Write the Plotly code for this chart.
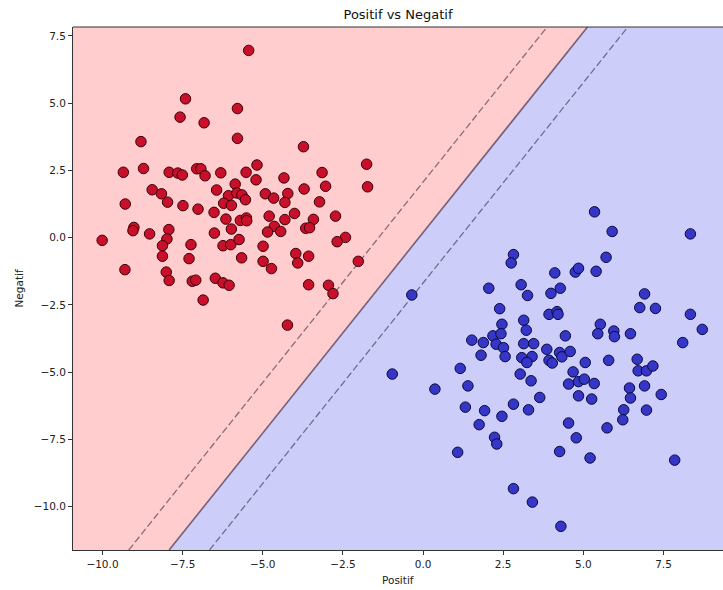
import plotly.graph_objects as go

# ---- data ----
red_x = [-10.01, -5.44, -7.41, -7.58, -6.83, -5.79, -5.79, -8.80, -3.73, -9.35,
         -8.72, -7.92, -7.65, -7.51, -7.06, -6.93, -6.80, -6.31, -5.52, -5.18,
         -5.21, -5.86, -4.34, -3.15, -3.04, -8.45, -8.16, -7.97, -6.44, -6.07,
         -5.81, -5.65, -5.54, -6.22, -5.98, -4.92, -4.66, -4.22, -4.31, -3.71,
         -3.23, -9.29, -7.49, -7.02, -6.52, -6.15, -5.70, -5.51, -5.50, -4.80,
         -4.01, -4.31, -3.42, -2.73, -9.02, -9.05, -8.53, -7.93, -7.99, -6.51,
         -5.98, -4.64, -4.85, -4.44, -3.66, -3.54, -2.42, -2.68, -8.13, -7.24,
         -6.24, -6.00, -5.74, -4.99, -8.13, -7.30, -5.66, -4.99, -4.73, -3.97,
         -3.91, -3.57, -9.30, -8.01, -7.92, -7.20, -7.09, -6.48, -6.24, -6.05,
         -3.57, -2.95, -2.81, -2.02, -1.76, -1.73, -6.86, -4.23]
red_y = [-0.10, 6.96, 5.16, 4.48, 4.27, 4.80, 3.69, 3.57, 3.38, 2.43,
         2.57, 2.43, 2.40, 2.33, 2.56, 2.56, 2.30, 2.41, 2.43, 2.70,
         2.15, 1.99, 2.22, 2.42, 1.91, 1.78, 1.63, 1.32, 1.77, 1.56,
         1.66, 1.59, 1.41, 1.28, 1.20, 1.63, 1.47, 1.64, 1.31, 1.81,
         1.33, 1.25, 1.19, 1.06, 0.94, 0.69, 0.64, 0.73, 0.63, 0.80,
         0.90, 0.67, 0.68, 0.80, 0.38, 0.26, 0.14, 0.30, -0.05, 0.17,
         0.32, 0.42, 0.21, 0.23, 0.35, 0.37, 0.01, -0.15, -0.30, -0.26,
         -0.30, -0.26, -0.07, -0.32, -0.69, -0.78, -0.75, -0.88, -1.15, -0.59,
         -0.94, -0.69, -1.19, -1.28, -1.59, -1.62, -1.58, -1.51, -1.68, -1.77,
         -1.75, -1.77, -2.08, -0.88, 2.73, 1.89, -2.32, -3.25]

blue_x = [5.35, 5.90, 8.34, 2.82, 2.75, 5.71, 4.11, 4.75, 4.85, 5.40,
          2.05, 3.06, 3.26, 3.99, 4.28, 6.91, -0.35, 2.39, 2.46, 3.14,
          3.22, 3.93, 4.18, 4.21, 6.76, 7.25, 8.34, 8.71, 8.10, 1.52,
          1.88, 2.18, 2.43, 2.28, 2.51, 1.81, 2.56, 3.14, 3.45, 3.86,
          3.08, 3.40, 3.24, 3.93, 4.03, 1.16, 4.44, 4.26, 4.33, 4.59,
          5.53, 5.45, 5.95, 5.97, 6.47, 5.79, 5.06, 4.68, 6.68, 6.71,
          6.97, 7.17, 3.03, 3.37, 1.40, -0.96, 0.37, 4.54, 4.85, 5.03,
          5.34, 4.85, 5.26, 3.64, 2.82, 3.29, 6.44, 6.47, 6.91, 7.43,
          6.26, 6.23, 6.97, 1.32, 1.92, 2.46, 1.75, 2.23, 2.30, 4.54,
          4.78, 5.74, 1.08, 4.26, 5.21, 7.85, 2.82, 3.41, 4.30]
blue_y = [0.96, 0.23, 0.14, -0.63, -0.94, -0.73, -1.31, -1.28, -1.14, -1.25,
          -1.88, -1.75, -2.15, -2.07, -1.88, -2.09, -2.13, -2.64, -3.22, -3.07,
          -3.44, -2.85, -2.75, -2.85, -2.60, -2.63, -2.85, -3.41, -3.90, -3.81,
          -3.90, -3.65, -3.57, -3.96, -4.09, -4.37, -4.42, -3.94, -3.94, -4.15,
          -4.46, -4.42, -4.64, -4.56, -4.66, -4.86, -3.65, -4.27, -4.43, -4.23,
          -3.22, -3.57, -3.47, -3.68, -3.57, -4.56, -4.64, -4.99, -4.52, -4.95,
          -4.95, -4.77, -5.07, -5.32, -5.51, -5.07, -5.63, -5.44, -5.35, -5.26,
          -5.42, -5.88, -6.00, -5.94, -6.19, -6.40, -5.59, -5.96, -5.51, -5.83,
          -6.40, -6.77, -6.41, -6.30, -6.43, -6.64, -6.95, -7.42, -7.67, -6.89,
          -7.44, -7.07, -7.98, -7.95, -8.19, -8.27, -9.33, -9.83, -10.73]

# linear SVM decision function: f(x, y) = w1*x + w2*y + b
svm_coef = [0.794, -0.533]
svm_intercept = 0.101
margin_levels = [-1.0, 1.0]

x_range = [-10.92, 9.357]
y_range = [-11.61, 7.83]
tick_values = [-10.0, -7.5, -5.0, -2.5, 0.0, 2.5, 5.0, 7.5]

title_text = "Positif vs Negatif"
x_label = "Positif"
y_label = "Negatif"

red_bg = "#ffcdcd"
blue_bg = "#cdcdfa"
red_pt = "#c8102a"
blue_pt = "#3535c6"


def x_at(level, y):
    w1, w2 = svm_coef
    return (level - svm_intercept - w2 * y) / w1


y0, y1 = y_range
x0, x1 = x_range
xb0, xb1 = x_at(0.0, y0), x_at(0.0, y1)

fig = go.Figure()

# decision regions
fig.add_trace(go.Scatter(
    x=[x0, xb0, xb1, x0, x0], y=[y0, y0, y1, y1, y0],
    fill="toself", fillcolor=red_bg, mode="none", hoverinfo="skip", showlegend=False))
fig.add_trace(go.Scatter(
    x=[xb0, x1, x1, xb1, xb0], y=[y0, y0, y1, y1, y0],
    fill="toself", fillcolor=blue_bg, mode="none", hoverinfo="skip", showlegend=False))

# margins (dashed) and boundary (solid)
for lv in margin_levels:
    fig.add_trace(go.Scatter(
        x=[x_at(lv, y0), x_at(lv, y1)], y=[y0, y1], mode="lines",
        line=dict(color="rgba(40,30,50,0.55)", width=1.3, dash="7px,3px"),
        hoverinfo="skip", showlegend=False))
fig.add_trace(go.Scatter(
    x=[xb0, xb1], y=[y0, y1], mode="lines",
    line=dict(color="rgba(40,20,50,0.6)", width=1.6),
    hoverinfo="skip", showlegend=False))

# points
fig.add_trace(go.Scatter(
    x=red_x, y=red_y, mode="markers",
    marker=dict(size=10.5, color=red_pt, line=dict(color="#3a0008", width=1)),
    showlegend=False))
fig.add_trace(go.Scatter(
    x=blue_x, y=blue_y, mode="markers",
    marker=dict(size=10.5, color=blue_pt, line=dict(color="#0a0a40", width=1)),
    showlegend=False))

axis_font = dict(family="DejaVu Sans", size=10.5, color="#222")

fig.update_layout(
    width=723, height=590,
    margin=dict(l=73, r=0, t=27, b=40),
    paper_bgcolor="white", plot_bgcolor="white",
    title=dict(text=title_text, x=0.5, xref="paper", y=1 - 14 / 590, yref="container",
               xanchor="center", yanchor="middle",
               font=dict(family="DejaVu Sans", size=13, color="#111")),
    xaxis=dict(range=x_range, tickvals=tick_values, tickformat=".1f",
               showgrid=False, zeroline=False, showline=True, linecolor="#333", linewidth=1,
               ticks="outside", ticklen=4, tickcolor="#333", tickfont=axis_font),
    yaxis=dict(range=y_range, tickvals=tick_values, tickformat=".1f",
               showgrid=False, zeroline=False, showline=True, linecolor="#333", linewidth=1,
               ticks="outside", ticklen=4, tickcolor="#333", tickfont=axis_font),
    shapes=[dict(type="line", xref="paper", yref="paper", x0=0, x1=1, y0=1, y1=1,
                 line=dict(color="#333", width=1))],
    annotations=[
        dict(text=x_label, xref="paper", yref="paper", x=0.5, y=-30 / 523,
             xanchor="center", yanchor="middle", showarrow=False,
             font=dict(family="DejaVu Sans", size=10.5, color="#222")),
        dict(text=y_label, xref="paper", yref="paper", x=-55 / 650, y=0.5,
             xanchor="center", yanchor="middle", textangle=-90, showarrow=False,
             font=dict(family="DejaVu Sans", size=10.5, color="#222")),
    ],
)

fig.write_html(
    "out.html",
    config={"displayModeBar": False},
    post_script="document.body.style.margin='0';document.body.style.padding='0';"
                "document.documentElement.style.overflow='hidden';"
                "document.body.style.overflow='hidden';",
)
